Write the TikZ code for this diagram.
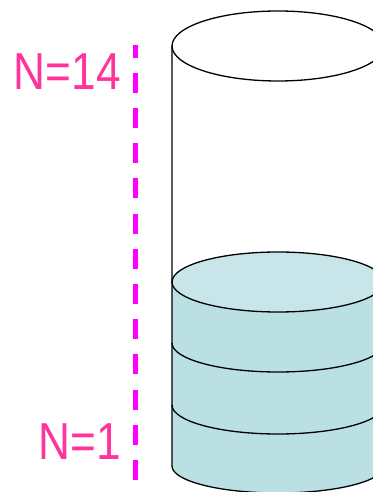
\documentclass[tikz,border=0pt]{standalone}
\usepackage{fontspec}
\setmainfont{Liberation Sans}
\definecolor{levelpink}{RGB}{255,51,153}
\definecolor{guide}{RGB}{255,0,255}
\definecolor{watertop}{RGB}{200,230,234}
\definecolor{waterside}{RGB}{187,224,228}
\begin{document}
\begin{tikzpicture}[x=1pt,y=1pt,
        rim/.style={line width=1.3pt},
        level/.style={text=levelpink,font=\fontsize{52}{52}\selectfont,inner sep=0pt,anchor=base east}]
            \useasboundingbox (0,0) rectangle (372,492);
            \coordinate (T) at (278,446);
            \coordinate (W) at (278,210);
            \coordinate (g0) at (135,12);
            \coordinate (g1) at (135,447);
            % water in the tube
            \fill[waterside] (172,210) -- (172,26) arc[start angle=180,end angle=360,x radius=106,y radius=27] -- (384,210) -- cycle;
            \filldraw[fill=watertop,rim] (W) ellipse[x radius=106,y radius=30];
            \foreach \y in {149,87}
                \draw[rim] (172,\y) arc[start angle=180,end angle=360,x radius=106,y radius=29];
            % the tube
            \draw[rim] (T) ellipse[x radius=106,y radius=35];
            \draw[rim] (172,446) -- (172,26) arc[start angle=180,end angle=360,x radius=106,y radius=27] -- (384,446);
            % height scale
            \draw[guide,line width=5pt,dash pattern=on 20pt off 15.2pt] (g0) -- (g1);
            \node[level] (n14) at (121,402) {\scalebox{0.85}[1]{N=14}};
            \node[level] (n1) at (121,32) {\scalebox{0.85}[1]{N=1}};
        \end{tikzpicture}
\end{document}
